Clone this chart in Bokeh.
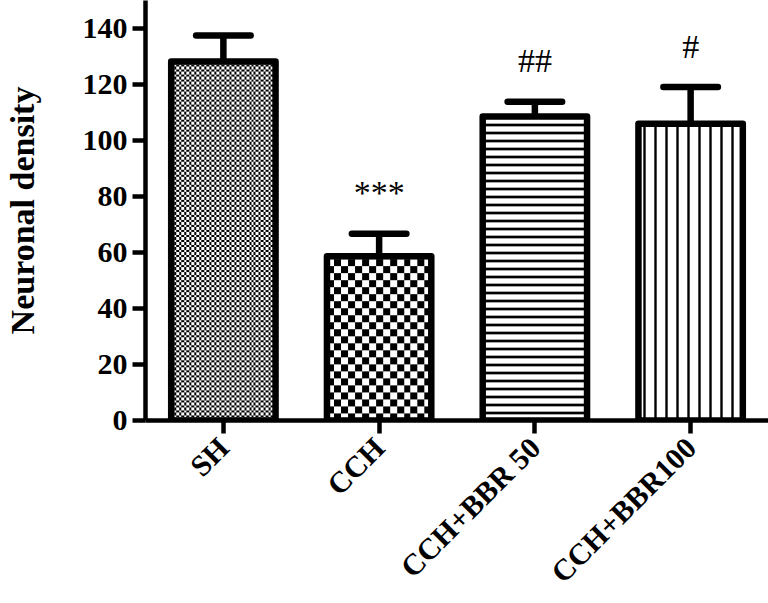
import math
import numpy as np
from bokeh.plotting import figure
from bokeh.models import Range1d, FixedTicker, ColumnDataSource
from bokeh.core.properties import value
from bokeh.embed import file_html
from bokeh.resources import INLINE

# ---- data ----
groups = ["SH", "CCH", "CCH+BBR 50", "CCH+BBR100"]
means = [128.2, 58.7, 108.6, 106.0]
upper = [137.5, 66.7, 113.8, 119.1]
marks = ["", "***", "##", "#"]
y_ticks = [0, 20, 40, 60, 80, 100, 120, 140]
y_title = "Neuronal density"

# ---- styles ----
patterns = ["checker", "checker", "horizontal_line", "vertical_line"]
hatch_scales = [2.5, 7, 8, 11]      # checker cell size (px) or hatch spacing
hatch_weights = [0, 0, 2.7, 2.4]
FONT = "Liberation Serif"

# ---- layout ----
W, H = 768, 603
BORDER_L, BORDER_B = 141, 183
X0, X1 = -0.5, 3.5
Y0, Y1 = 0, 150
BAR_W = 0.67
px_x = (W - BORDER_L) / (X1 - X0)
px_y = (H - BORDER_B) / (Y1 - Y0)

x = np.arange(len(groups))
src = ColumnDataSource(dict(
    x=x, top=means, upper=upper, marks=marks,
    cx0=x - 0.175, cx1=x + 0.175,
))

p = figure(width=W, height=H,
           x_range=Range1d(X0, X1), y_range=Range1d(Y0, Y1),
           output_backend="svg", toolbar_location=None,
           min_border_left=BORDER_L, min_border_top=0, min_border_right=0,
           min_border_bottom=BORDER_B)
p.outline_line_color = None
p.xgrid.visible = False
p.ygrid.visible = False

# error bars (upper only)
p.segment(x0="x", y0="top", x1="x", y1="upper", source=src,
          line_color="black", line_width=6.5)
p.segment(x0="cx0", y0="upper", x1="cx1", y1="upper", source=src,
          line_color="black", line_width=6.5, line_cap="round")


def checker_image(w_px, h_px, cell):
    ix = np.floor(np.arange(w_px) / cell).astype(int)
    iy = np.floor(np.arange(h_px) / cell).astype(int)
    on = (iy[:, None] + ix[None, :]) % 2 == 1
    rgba = np.full((h_px, w_px, 4), 255, dtype=np.uint8)
    rgba[on, 0:3] = 0
    return rgba.view(dtype=np.uint32).reshape((h_px, w_px))


for i in range(len(groups)):
    one = ColumnDataSource(dict(x=[x[i]], top=[means[i]]))
    if patterns[i] == "checker":
        w_px = int(round(BAR_W * px_x))
        h_px = int(round(means[i] * px_y))
        img = checker_image(w_px, h_px, hatch_scales[i])
        p.image_rgba(image=[img], x=x[i] - BAR_W / 2, y=0,
                     dw=BAR_W, dh=means[i])
        p.vbar(x="x", top="top", bottom=0, width=BAR_W, source=one,
               fill_color=None, line_color="black", line_width=6.5,
               line_join="round")
    else:
        p.vbar(x="x", top="top", bottom=0, width=BAR_W, source=one,
               fill_color="white", line_color="black", line_width=6.5,
               line_join="round", hatch_pattern=patterns[i],
               hatch_scale=hatch_scales[i], hatch_weight=hatch_weights[i],
               hatch_color="black")

# significance marks
p.text(x="x", y="upper", text="marks", source=src,
       text_font=value(FONT), text_font_size="34px",
       text_align="center", text_baseline="alphabetic",
       y_offset=-41, text_color="black")

# axes
p.yaxis.ticker = FixedTicker(ticks=y_ticks)
p.xaxis.ticker = FixedTicker(ticks=list(x))
p.xaxis.major_label_overrides = {int(i): g for i, g in zip(x, groups)}
p.xaxis.major_label_orientation = math.pi / 4
p.yaxis.axis_label = y_title

for ax in (p.xaxis[0], p.yaxis[0]):
    ax.axis_line_width = 4.5
    ax.axis_line_color = "black"
    ax.major_tick_line_width = 4.5
    ax.major_tick_line_color = "black"
    ax.major_tick_out = 13
    ax.major_tick_in = 0
    ax.minor_tick_line_color = None
    ax.major_label_text_font = FONT
    ax.major_label_text_font_style = "bold"
    ax.major_label_text_color = "black"
    ax.major_label_text_font_size = "30px"

p.yaxis.major_label_standoff = 5
p.xaxis.major_label_standoff = 9
p.yaxis.axis_label_text_font = FONT
p.yaxis.axis_label_text_font_style = "bold"
p.yaxis.axis_label_text_font_size = "34px"
p.yaxis.axis_label_text_color = "black"
p.yaxis.axis_label_standoff = 39

open("out.html", "w").write(file_html(p, INLINE))
